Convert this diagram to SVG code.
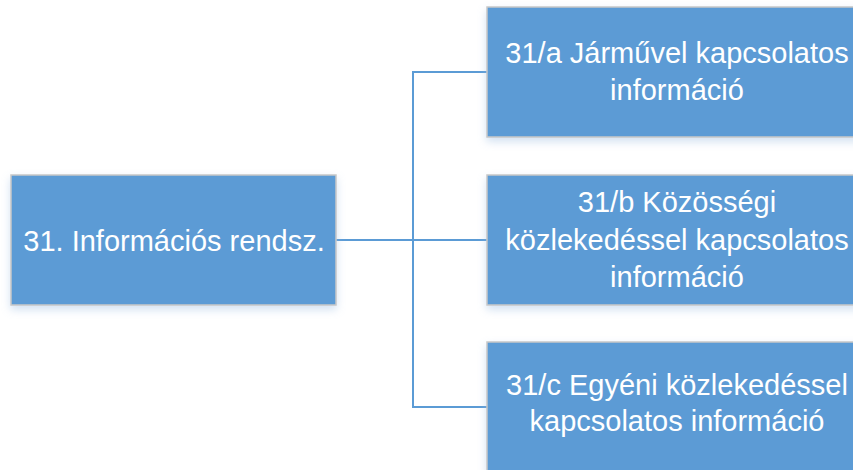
<svg xmlns="http://www.w3.org/2000/svg" width="853" height="470" viewBox="0 0 853 470">
  <defs>
    <filter id="sh" x="-10%" y="-10%" width="120%" height="130%">
      <feDropShadow dx="0" dy="4" stdDeviation="4" flood-color="#9DBDE3" flood-opacity="0.45"/>
    </filter>
  </defs>
  <style>
    .box { fill: #5B9BD5; stroke: #C8C8C8; stroke-width: 1.5; filter: url(#sh); }
    .lbl { font-family: "Liberation Sans", Arial, sans-serif; font-size: 29px; fill: #FFFFFF; text-anchor: middle; }
    .conn { fill: none; stroke: #5B9BD5; stroke-width: 2; }
  </style>
  <rect width="853" height="470" fill="#FFFFFF"/>
  <g id="connectors">
    <path class="conn" d="M336 240 H413"/>
    <path class="conn" d="M487 72 H413 V407 H487"/>
    <path class="conn" d="M413 240 H487"/>
  </g>
  <g id="node-31">
    <rect class="box" x="11" y="175" width="325" height="130"/>
    <text class="lbl" x="174" y="251">31. Információs rendsz.</text>
  </g>
  <g id="node-31a">
    <rect class="box" x="487" y="7" width="380" height="130"/>
    <text class="lbl" x="677" y="63">31/a Járművel kapcsolatos</text>
    <text class="lbl" x="677" y="100">információ</text>
  </g>
  <g id="node-31b">
    <rect class="box" x="487" y="175" width="380" height="130"/>
    <text class="lbl" x="677" y="212">31/b Közösségi</text>
    <text class="lbl" x="677" y="250">közlekedéssel kapcsolatos</text>
    <text class="lbl" x="677" y="287">információ</text>
  </g>
  <g id="node-31c">
    <rect class="box" x="487" y="342" width="380" height="130"/>
    <text class="lbl" x="677" y="395">31/c Egyéni közlekedéssel</text>
    <text class="lbl" x="677" y="431">kapcsolatos információ</text>
  </g>
</svg>
